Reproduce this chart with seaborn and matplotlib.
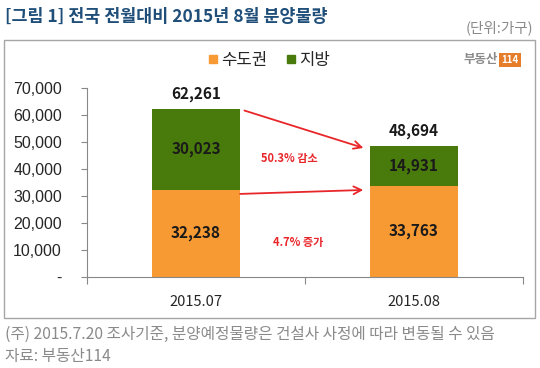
import pandas as pd
import matplotlib.pyplot as plt
import seaborn as sns
from matplotlib.lines import Line2D
from matplotlib.patches import Rectangle

# 데이터
months = ['2015.07', '2015.08']
capital = [32238, 33763]   # 수도권
local = [30023, 14931]     # 지방
totals = [c + l for c, l in zip(capital, local)]
yticks = [0, 10000, 20000, 30000, 40000, 50000, 60000, 70000]
change_labels = ['50.3% 감소', '4.7% 증가']

c_orange = '#F79A33'
c_green = '#497A0C'
c_red = '#E8262A'

sns.set_theme(style='white')
plt.rcParams['font.family'] = ['Noto Sans CJK KR', 'DejaVu Sans']

df = pd.DataFrame({'month': months, 'capital': capital, 'local': local, 'total': totals})

fig = plt.figure(figsize=(5.4, 3.68), dpi=100)
ax = fig.add_axes([87/540, 1 - 277/368, (523 - 87)/540, (277 - 88)/368])

# 누적 막대: 전체(지방 색) 위에 수도권 덮기
sns.barplot(data=df, x='month', y='total', color=c_green, width=0.4, ax=ax,
            saturation=1, linewidth=0)
sns.barplot(data=df, x='month', y='capital', color=c_orange, width=0.4, ax=ax,
            saturation=1, linewidth=0)

ax.set_xlim(-0.5, 1.5)
ax.set_ylim(0, 70000)
ax.set_yticks(yticks)
ax.set_yticklabels(['-' if v == 0 else f'{v:,}' for v in yticks], fontsize=11.5,
                   family='Liberation Sans')
ax.set_xticks([0, 1])
ax.set_xticklabels(months, fontsize=10.5)
ax.set_xlabel('')
ax.set_ylabel('')
ax.tick_params(axis='y', length=4, width=0.8, color='#888888', pad=14, left=True)
ax.tick_params(axis='x', length=0, pad=13)
# 카테고리 사이 눈금
ax.set_xticks([-0.5, 0.5, 1.5], minor=True)
ax.tick_params(axis='x', which='minor', length=5, width=0.8, color='#888888', bottom=True)
for s in ['top', 'right']:
    ax.spines[s].set_visible(False)
for s in ['left', 'bottom']:
    ax.spines[s].set_color('#888888')
    ax.spines[s].set_linewidth(0.8)

# 값 라벨
for i in range(len(months)):
    ax.text(i, capital[i] / 2, f'{capital[i]:,}', ha='center', va='center',
            fontsize=11, fontweight='bold', color='#1a1a1a')
    ax.text(i, capital[i] + local[i] / 2, f'{local[i]:,}', ha='center', va='center',
            fontsize=11, fontweight='bold', color='#1a1a1a')
    ax.text(i, totals[i] + 2500, f'{totals[i]:,}', ha='center', va='bottom',
            fontsize=11, fontweight='bold', color='#1a1a1a')

# 화살표
arrow = dict(arrowstyle='->', color=c_red, lw=1.3, mutation_scale=14)
ax.annotate('', xy=(0.78, totals[1] - 1200), xytext=(0.21, totals[0] - 300), arrowprops=arrow)
ax.annotate('', xy=(0.78, capital[1] - 1500), xytext=(0.19, capital[0] - 1500), arrowprops=arrow)
ax.text(0.43, 44000, change_labels[0], ha='center', va='center', fontsize=8,
        fontweight='bold', color=c_red)
ax.text(0.47, 12600, change_labels[1], ha='center', va='center', fontsize=8,
        fontweight='bold', color=c_red)

# 범례
handles = [Line2D([], [], marker='s', ls='', color=c_orange, markersize=6),
           Line2D([], [], marker='s', ls='', color=c_green, markersize=6)]
fig.legend(handles, ['수도권', '지방'], loc='center', bbox_to_anchor=(268/540, 1 - 60/368),
           ncol=2, frameon=False, fontsize=12, handletextpad=0.1, columnspacing=1.0,
           handlelength=0.8)

# 로고
fig.text(498/540, 1 - 60/368, '부동산', ha='right', va='center', fontsize=9,
         fontweight='bold', color='#8a8a8a')
fig.text(510/540, 1 - 60/368, '114', ha='center', va='center', fontsize=7,
         fontweight='bold', color='white',
         bbox=dict(boxstyle='square,pad=0.25', fc='#E57D2A', ec='none'))

# 테두리
fig.patches.append(Rectangle((4/540, 1 - 318/368), 531/540, 278/368, transform=fig.transFigure,
                             fill=False, ec='#A6A6A6', lw=1.0))

# 제목 및 주석
fig.text(5/540, 1 - 17/368, '[그림 1] 전국 전월대비 2015년 8월 분양물량', ha='left', va='center',
         fontsize=12.5, fontweight='bold', color='#1F4E79')
fig.text(533/540, 1 - 28/368, '(단위:가구)', ha='right', va='center', fontsize=10.5,
         color='#8a8a8a')
fig.text(5/540, 1 - 334/368, '(주) 2015.7.20 조사기준, 분양예정물량은 건설사 사정에 따라 변동될 수 있음',
         ha='left', va='center', fontsize=11.3, color='#8a8a8a')
fig.text(5/540, 1 - 356/368, '자료: 부동산114', ha='left', va='center', fontsize=11.3, color='#8a8a8a')

fig.savefig('out.png', dpi=100)
